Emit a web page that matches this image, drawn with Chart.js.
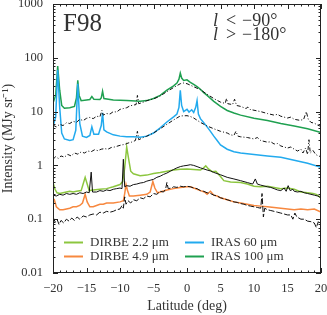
<!DOCTYPE html>
<html>
<head>
<meta charset="utf-8">
<script src="https://cdn.jsdelivr.net/npm/chart.js@4.4.1/dist/chart.umd.min.js"></script>
<style>
  html, body { margin: 0; padding: 0; background: #fff; }
</style>
</head>
<body>
<canvas id="f98" width="327" height="315"></canvas>
<script>
// Axis ticks
const xTickValues = [-20, -15, -10, -5, 0, 5, 10, 15, 20];
const xTickLabels = ['\u221220', '\u221215', '\u221210', '\u22125', '0', '5', '10', '15', '20'];
const yTickValues = [0.01, 0.1, 1, 10, 100, 1000];
const yTickLabels = ['0.01', '0.1', '1', '10', '100', '1000'];

// [latitude, intensity]
const iras100 = [[-20,14.5],[-19.6,20],[-19.3,70],[-19.0,25],[-18.7,13],[-18.3,11.5],[-17.5,11.8],[-16.8,12.5],[-16.5,18],[-16.3,38],[-16.1,20],[-15.8,16],[-15,16.5],[-14.5,16.8],[-14.2,19],[-13.9,17],[-13,16.8],[-12.8,18],[-12.6,24],[-12.4,17.5],[-11,16.5],[-9,16],[-7,15.5],[-6,16],[-5,17.5],[-4,20],[-3,25],[-2,30],[-1.5,34],[-1.2,40],[-1.0,52],[-0.8,42],[-0.5,38],[0,39],[0.5,35],[1,32],[1.5,29],[2,26],[2.5,22.5],[3,20],[4,15.5],[5,12.5],[6,10.5],[7,9.4],[8,8.6],[10,7.5],[12,6.8],[14,6.0],[16,5.4],[18,4.8],[20,4.1]];
const iras100Model = [[-20,5.6],[-19.5,5.2],[-19,5.8],[-18.5,5.5],[-18,6.2],[-17.5,6.0],[-17,6.6],[-16.5,6.3],[-16,7.2],[-15.5,6.8],[-15,7.5],[-14.5,7.8],[-14,7.4],[-13.5,8.2],[-13,8.0],[-12.7,10.5],[-12.5,8.6],[-12,9.2],[-11.5,9.0],[-11,10],[-10.5,9.8],[-10,11],[-9.5,11.4],[-9,11.8],[-8.5,12.8],[-8,13.2],[-7.6,13.5],[-7.4,20],[-7.2,14],[-6.5,15],[-6,16],[-5,17.2],[-4,19.5],[-3,23.5],[-2,28],[-1,33],[-0.5,34],[0,33],[0.5,31],[1,29],[2,25.5],[3,21],[4,17.5],[5,15],[5.7,14.2],[5.9,17.5],[6.1,14],[6.8,13.5],[7.1,17],[7.4,13],[8,12.5],[8.8,11.4],[9.1,12.2],[9.4,11],[10,10.6],[11,10],[12,9.2],[13,8.6],[13.5,8.9],[14,8.2],[15,7.6],[15.5,7.9],[16,7.2],[16.8,6.9],[17.4,7.1],[17.8,10],[18.1,7.2],[18.5,6.3],[19,6.1],[19.5,5.6],[20,5.3]];
const iras60 = [[-20,5.3],[-19.6,8],[-19.3,60],[-19.0,12],[-18.7,4],[-18.3,3.1],[-17.5,2.9],[-17,3.0],[-16.6,4.5],[-16.3,33],[-16.0,6],[-15.6,3.5],[-15,3.3],[-14.5,3.6],[-14.2,5.2],[-13.9,3.8],[-13.2,3.8],[-12.8,5.5],[-12.6,9.5],[-12.4,4.6],[-12,4.2],[-11,3.7],[-10,3.5],[-9,3.4],[-8,3.4],[-7,3.35],[-6,3.5],[-5,4.0],[-4,5.0],[-3,6.4],[-2,8.0],[-1.5,9.0],[-1.2,12],[-1.0,25],[-0.8,13],[-0.5,10],[0,11],[0.3,9.8],[0.7,10.8],[1.0,9.6],[1.3,12],[1.5,16],[1.7,9],[2,7.4],[2.5,6.2],[3,5.2],[3.5,4.3],[4,3.5],[4.5,2.9],[5,2.4],[6,2.0],[7,1.8],[8,1.7],[10,1.6],[12,1.5],[14,1.42],[16,1.25],[18,1.1],[20,0.92]];
const iras60Model = [[-20,1.3],[-19.6,1.45],[-19.2,1.35],[-18.8,1.5],[-18.3,1.42],[-17.8,1.6],[-17.3,1.5],[-16.8,1.7],[-16.3,1.62],[-15.8,1.78],[-15.3,1.7],[-14.8,1.85],[-14.3,1.8],[-13.8,1.95],[-13.3,1.88],[-12.8,2.0],[-12.3,2.05],[-11.8,2.0],[-11.3,2.15],[-10.8,2.2],[-10.3,2.3],[-9.8,2.4],[-9.3,2.45],[-8.8,2.6],[-8.3,2.7],[-7.7,2.9],[-7.4,4.3],[-7.2,3.0],[-6.5,3.3],[-6,3.5],[-5,4.0],[-4,4.8],[-3,5.8],[-2,7.0],[-1,8.3],[0,8.4],[0.5,8.1],[1,7.6],[2,6.3],[3,5.4],[4,4.8],[5,4.3],[6,4.0],[6.5,3.7],[7,3.6],[7.3,4.3],[7.6,3.5],[8,3.4],[9,3.3],[10,3.1],[10.5,3.3],[11,2.9],[12,2.7],[12.5,2.75],[13,2.5],[13.5,2.55],[14,2.3],[15,2.1],[15.5,2.2],[16,2.0],[16.5,1.85],[17,2.0],[17.3,1.7],[17.7,2.1],[18.0,1.6],[18.2,3.0],[18.4,1.7],[18.8,1.9],[19.2,1.6],[19.6,1.5],[20,1.45]];
const dirbe22 = [[-20,0.48],[-19.7,0.36],[-19.4,0.31],[-19,0.30],[-18.5,0.31],[-18,0.32],[-17.5,0.33],[-17,0.32],[-16.5,0.33],[-15.8,0.34],[-15.5,0.45],[-15.2,0.6],[-14.9,0.45],[-14.6,0.34],[-14,0.35],[-13,0.36],[-12,0.37],[-11,0.40],[-10,0.44],[-9.6,0.5],[-9.3,0.9],[-9.0,2.2],[-8.7,1.3],[-8.4,0.78],[-8,0.7],[-7,0.64],[-6,0.66],[-5,0.71],[-4,0.74],[-3,0.78],[-2,0.82],[-1,0.85],[0,0.86],[1,0.84],[2,0.82],[2.4,0.88],[2.8,0.98],[3.2,0.86],[3.8,0.76],[4.3,0.78],[5,0.62],[5.5,0.52],[6.5,0.49],[8,0.48],[9,0.45],[10,0.41],[11,0.40],[12,0.41],[13,0.39],[14,0.37],[15,0.38],[16,0.36],[17,0.32],[18,0.31],[18.8,0.30],[19.3,0.29],[20,0.25]];
const dirbe22Model = [[-20,0.28],[-19.5,0.27],[-19,0.29],[-18.5,0.28],[-18,0.3],[-17.5,0.29],[-17,0.3],[-16.5,0.29],[-16,0.31],[-15.5,0.30],[-15,0.32],[-14.6,0.31],[-14.3,0.75],[-14.1,0.32],[-13.5,0.32],[-13,0.34],[-12.5,0.33],[-12,0.35],[-11.5,0.34],[-11,0.36],[-10.5,0.37],[-10,0.38],[-9.7,0.37],[-9.5,1.3],[-9.3,0.4],[-9,0.42],[-8.5,0.41],[-8,0.44],[-7.5,0.45],[-7,0.47],[-6.5,0.48],[-6,0.51],[-5.5,0.53],[-5,0.55],[-4.5,0.6],[-4,0.63],[-3.5,0.68],[-3,0.72],[-2.5,0.78],[-2,0.84],[-1.5,0.9],[-1,0.95],[-0.5,0.98],[0,1.0],[0.5,1.03],[1,1.0],[1.5,0.95],[2,0.9],[2.5,0.86],[3,0.82],[3.5,0.79],[4,0.74],[5,0.67],[6,0.6],[7,0.56],[8,0.52],[9,0.48],[9.8,0.45],[10.2,0.56],[10.5,0.45],[11,0.43],[12,0.40],[12.5,0.39],[13,0.37],[13.5,0.35],[14,0.34],[14.5,0.38],[14.8,0.33],[15.1,0.42],[15.4,0.34],[15.8,0.36],[16,0.33],[16.5,0.32],[17,0.33],[17.5,0.31],[18,0.3],[18.5,0.29],[19,0.28],[19.5,0.27],[20,0.25]];
const dirbe49 = [[-20,0.22],[-19.8,0.23],[-19.5,0.17],[-19,0.15],[-18.5,0.15],[-18,0.155],[-17.5,0.16],[-17,0.17],[-16.5,0.17],[-16,0.18],[-15.6,0.2],[-15.2,0.29],[-14.9,0.21],[-14.5,0.17],[-14,0.17],[-13.5,0.18],[-13,0.19],[-12.5,0.19],[-12,0.2],[-11,0.2],[-10,0.21],[-9.5,0.22],[-9.3,0.3],[-9.1,0.44],[-8.9,0.35],[-8.6,0.27],[-8,0.27],[-7,0.28],[-6,0.29],[-5.5,0.32],[-5.1,0.5],[-4.8,0.38],[-4.4,0.31],[-4,0.32],[-3,0.35],[-2,0.37],[-1,0.39],[0,0.40],[0.5,0.40],[1,0.38],[2,0.34],[2.6,0.32],[3.0,0.29],[3.5,0.33],[4.0,0.28],[4.5,0.27],[5,0.25],[6,0.23],[7,0.21],[8,0.2],[9,0.19],[10,0.18],[11,0.175],[12,0.17],[13,0.165],[14,0.16],[15,0.155],[16,0.15],[17,0.155],[18,0.15],[19,0.155],[20,0.135]];
const dirbe49Model = [[-20,0.11],[-19.7,0.09],[-19.4,0.1],[-19.1,0.08],[-18.8,0.095],[-18.4,0.085],[-18,0.1],[-17.6,0.092],[-17.2,0.105],[-16.8,0.095],[-16.4,0.11],[-16,0.1],[-15.5,0.115],[-15,0.11],[-14.5,0.12],[-14,0.125],[-13.5,0.12],[-13,0.135],[-12.5,0.13],[-12,0.14],[-11.5,0.135],[-11,0.14],[-10.5,0.15],[-10,0.155],[-9.7,0.18],[-9.5,0.16],[-9.3,0.26],[-9.1,0.19],[-8.8,0.22],[-8.4,0.2],[-8,0.23],[-7.5,0.22],[-7,0.25],[-6.5,0.24],[-6,0.27],[-5.5,0.26],[-5,0.3],[-4.5,0.29],[-4,0.33],[-3.5,0.32],[-3.2,0.36],[-3.0,0.48],[-2.8,0.37],[-2.3,0.38],[-2,0.4],[-1.5,0.39],[-1,0.41],[-0.5,0.4],[0,0.41],[0.5,0.4],[1,0.38],[1.5,0.37],[2,0.34],[2.5,0.33],[3,0.31],[3.5,0.3],[4,0.28],[4.5,0.27],[5,0.25],[5.5,0.24],[6,0.23],[6.5,0.22],[7,0.21],[7.5,0.205],[8,0.195],[8.5,0.19],[9,0.18],[9.5,0.175],[10,0.17],[10.5,0.165],[11,0.16],[11.2,0.3],[11.4,0.11],[11.6,0.16],[12,0.15],[12.5,0.145],[13,0.14],[13.5,0.135],[14,0.13],[14.5,0.125],[15,0.12],[15.5,0.12],[15.8,0.1],[16.1,0.13],[16.4,0.11],[17,0.1],[17.5,0.1],[18,0.092],[18.5,0.09],[19,0.085],[19.3,0.07],[19.6,0.09],[20,0.08]];

const serif = '"Liberation Serif", "Times New Roman", serif';
const textColor = '#333';

function colored(label, data, color) {
    return { label: label, data: data, borderColor: color, borderWidth: 1.5, pointRadius: 0, tension: 0, order: 1 };
}
function model(data, dash) {
    return { label: '', data: data, borderColor: '#111', borderWidth: 1, borderDash: dash, pointRadius: 0, tension: 0, order: 0 };
}

// ticks pointing inwards on all four sides, box frame, legend and labels
const frameAndText = {
    id: 'frameAndText',
    afterDatasetsDraw(chart) {
        const { ctx, chartArea: a, scales: { x, y } } = chart;
        ctx.save();
        ctx.strokeStyle = '#222';
        ctx.lineWidth = 1;
        ctx.strokeRect(a.left + 0.5, a.top + 0.5, a.right - a.left - 1, a.bottom - a.top - 1);
        ctx.beginPath();
        for (let v = -20; v <= 20; v++) {
            const px = Math.round(x.getPixelForValue(v)) + 0.5;
            const len = v % 5 === 0 ? 5 : 2.5;
            ctx.moveTo(px, a.bottom); ctx.lineTo(px, a.bottom - len);
            ctx.moveTo(px, a.top); ctx.lineTo(px, a.top + len);
        }
        for (let e = -2; e <= 3; e++) {
            for (let m = 1; m <= 9; m++) {
                const v = m * Math.pow(10, e);
                if (v > 1000) break;
                const py = Math.round(y.getPixelForValue(v)) + 0.5;
                const len = m === 1 ? 5 : 2.5;
                ctx.moveTo(a.left, py); ctx.lineTo(a.left + len, py);
                ctx.moveTo(a.right, py); ctx.lineTo(a.right - len, py);
            }
        }
        ctx.stroke();

        // legend, two columns
        const ds = chart.data.datasets;
        const legendItems = [[0, 64, 242.5], [1, 64, 256.5], [2, 185, 242.5], [3, 185, 256.5]];
        ctx.font = '13px ' + serif;
        ctx.textBaseline = 'middle';
        ctx.fillStyle = textColor;
        legendItems.forEach(([i, lx, ly]) => {
            ctx.strokeStyle = ds[i].borderColor;
            ctx.lineWidth = 2;
            ctx.beginPath();
            ctx.moveTo(lx, ly); ctx.lineTo(lx + 19, ly);
            ctx.stroke();
            ctx.fillText(ds[i].label, lx + 26, ly);
        });

        // panel labels
        ctx.font = '25px ' + serif;
        ctx.fillText('F98', 63, 24);
        const rows = [['<', '\u221290\u00b0', 21], ['>', '\u2212180\u00b0', 35]];
        rows.forEach(([op, val, ty]) => {
            ctx.font = 'italic 18px ' + serif;
            ctx.fillText('l', 213, ty);
            ctx.font = '18px ' + serif;
            ctx.fillText(op, 226, ty);
            ctx.fillText(val, 242, ty);
        });
        ctx.restore();
    }
};

new Chart(document.getElementById('f98').getContext('2d'), {
    type: 'line',
    data: {
        datasets: [
            colored('DIRBE 2.2 \u03bcm', dirbe22, '#8cc63f'),
            colored('DIRBE 4.9 \u03bcm', dirbe49, '#f7883f'),
            colored('IRAS 60 \u03bcm', iras60, '#22aaee'),
            colored('IRAS 100 \u03bcm', iras100, '#1fa050'),
            model(iras100Model, [4, 2, 1, 2]),
            model(iras60Model, [4, 2, 1, 2]),
            model(dirbe22Model, []),
            model(dirbe49Model, [6, 2])
        ]
    },
    options: {
        responsive: false,
        animation: false,
        layout: { padding: { left: 0, right: 6, top: 4, bottom: 0 } },
        scales: {
            x: {
                type: 'linear',
                min: -20,
                max: 20,
                afterBuildTicks: s => { s.ticks = xTickValues.map(v => ({ value: v })); },
                afterFit: s => { s.height = 42; s.paddingLeft = 0; s.paddingRight = 0; },
                grid: { display: false, drawTicks: false },
                border: { display: false },
                ticks: {
                    padding: 8,
                    maxRotation: 0,
                    color: textColor,
                    font: { family: serif, size: 12.5 },
                    callback: (v, i) => xTickLabels[i]
                },
                title: {
                    display: true,
                    text: 'Latitude (deg)',
                    color: textColor,
                    font: { family: serif, size: 14 },
                    padding: 0
                }
            },
            y: {
                type: 'logarithmic',
                min: 0.01,
                max: 1000,
                afterBuildTicks: s => { s.ticks = yTickValues.map(v => ({ value: v })); },
                afterFit: s => { s.width = 53; s.paddingTop = 0; s.paddingBottom = 0; },
                grid: { display: false, drawTicks: false },
                border: { display: false },
                ticks: {
                    padding: 10,
                    color: textColor,
                    font: { family: serif, size: 12.5 },
                    callback: (v, i) => yTickLabels[i]
                },
                title: {
                    display: true,
                    text: 'Intensity (MJy sr\u207b\u00b9)',
                    color: textColor,
                    font: { family: serif, size: 14 },
                    padding: 0
                }
            }
        },
        plugins: {
            legend: { display: false },
            tooltip: { enabled: false }
        }
    },
    plugins: [frameAndText]
});
</script>
</body>
</html>
